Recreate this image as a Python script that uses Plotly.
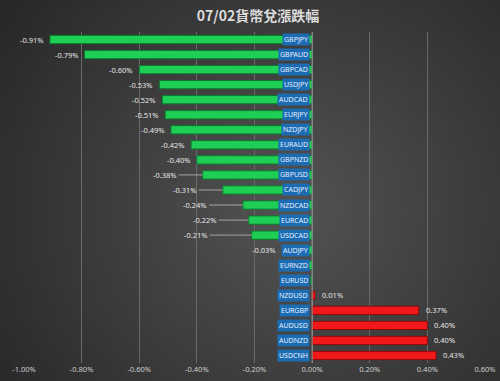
import base64, struct, zlib
import plotly.graph_objects as go

title = "07/02貨幣兌漲跌幅"
pairs = ["GBPJPY", "GBPAUD", "GBPCAD", "USDJPY", "AUDCAD", "EURJPY", "NZDJPY",
         "EURAUD", "GBPNZD", "GBPUSD", "CADJPY", "NZDCAD", "EURCAD", "USDCAD",
         "AUDJPY", "EURNZD", "EURUSD", "NZDUSD", "EURGBP", "AUDUSD", "AUDNZD", "USDCNH"]
changes = [-0.91, -0.79, -0.60, -0.53, -0.52, -0.51, -0.49,
           -0.42, -0.40, -0.38, -0.31, -0.24, -0.22, -0.21,
           -0.03, -0.015, -0.005, 0.01, 0.37, 0.40, 0.40, 0.43]
show_label = [True] * 15 + [False, False] + [True] * 5
# labels pushed left with leader lines (pixel offsets)
leader_offset = {"GBPUSD": -24, "CADJPY": -24, "NZDCAD": -34, "EURCAD": -30, "USDCAD": -42}
tick_vals = [-1.0, -0.8, -0.6, -0.4, -0.2, 0.0, 0.2, 0.4, 0.6]
tick_text = ["-1.00%", "-0.80%", "-0.60%", "-0.40%", "-0.20%", "0.00%", "0.20%", "0.40%", "0.60%"]

W, H = 500, 381
ML, MR, MT, MB = 24, 15, 32, 18
PW, PH = W - ML - MR, H - MT - MB


def make_bg_png(w=100, h=76):
    rows = b""
    for j in range(h):
        row = b"\x00"
        for i in range(w):
            dx = (i / (w - 1) - 0.58) / 0.75
            dy = (j / (h - 1) - 0.55) / 0.95
            d = min(1.0, (dx * dx + dy * dy) ** 0.5)
            v = int(84 - (84 - 38) * d)
            row += bytes([v, v, v])
        rows += row

    def chunk(t, data):
        c = struct.pack(">I", len(data)) + t + data
        return c + struct.pack(">I", zlib.crc32(t + data) & 0xffffffff)

    png = b"\x89PNG\r\n\x1a\n"
    png += chunk(b"IHDR", struct.pack(">IIBBBBB", w, h, 8, 2, 0, 0, 0))
    png += chunk(b"IDAT", zlib.compress(rows))
    png += chunk(b"IEND", b"")
    return "data:image/png;base64," + base64.b64encode(png).decode()


colors = ["#1fcf55" if v < 0 else "#f01818" for v in changes]
lines = ["#0b7a2e" if v < 0 else "#8e0a0a" for v in changes]

fig = go.Figure()
fig.add_trace(go.Bar(
    x=changes, y=pairs, orientation="h",
    marker=dict(color=colors, line=dict(color=lines, width=1)),
    width=0.55, hoverinfo="x+y",
))

lab_font = dict(family="Noto Sans", size=7.5, color="#e6e6e6")
ann = []
for p, v, s in zip(pairs, changes, show_label):
    # category label in blue box at left of zero axis
    ann.append(dict(x=0, y=p, xref="x", yref="y", text=p, showarrow=False,
                    xanchor="right", xshift=-2, bgcolor="#1b6cb3",
                    font=dict(family="Noto Sans", size=7, color="#e8f0ff"),
                    borderpad=1))
    if not s:
        continue
    txt = f"{v:.2f}%"
    if v < 0:
        if p in leader_offset:
            ann.append(dict(x=v, y=p, xref="x", yref="y", text=txt, showarrow=True,
                            arrowhead=0, arrowwidth=0.8, arrowcolor="#bbbbbb",
                            ax=leader_offset[p], ay=0, xanchor="right", font=lab_font))
        elif abs(v) < 0.05:
            # tiny bar: label sits just left of the pair box
            ann.append(dict(x=0, y=p, xref="x", yref="y", text=txt, showarrow=False,
                            xanchor="right", xshift=-34, font=lab_font))
        else:
            ann.append(dict(x=v, y=p, xref="x", yref="y", text=txt, showarrow=False,
                            xanchor="right", xshift=-4, font=lab_font))
    else:
        ann.append(dict(x=v, y=p, xref="x", yref="y", text=txt, showarrow=False,
                        xanchor="left", xshift=5, font=lab_font))

fig.update_layout(
    width=W, height=H,
    margin=dict(l=ML, r=MR, t=MT, b=MB, autoexpand=False),
    paper_bgcolor="#3a3a3a", plot_bgcolor="rgba(0,0,0,0)",
    title=dict(text=f"<b>{title}</b>", x=0.516, xanchor="center", y=0.958, yanchor="middle",
               font=dict(family="Noto Sans CJK TC", size=14, color="#dddddd")),
    showlegend=False,
    annotations=ann,
    images=[dict(source=make_bg_png(), xref="paper", yref="paper",
                 x=-ML / PW, y=1 + MT / PH, sizex=W / PW, sizey=H / PH,
                 xanchor="left", yanchor="top", sizing="stretch", layer="below")],
    xaxis=dict(range=[-1.0, 0.6], tickvals=tick_vals, ticktext=tick_text,
               showgrid=True, gridcolor="#6a6a6a", gridwidth=1, zeroline=False,
               showline=False, ticks="", fixedrange=True, automargin=False,
               tickfont=dict(family="Noto Sans", size=7.5, color="#cccccc")),
    yaxis=dict(autorange="reversed", showticklabels=False, showgrid=False,
               zeroline=False, showline=False, ticks="", automargin=False),
    shapes=[dict(type="line", xref="x", yref="paper", x0=0, x1=0, y0=0, y1=1,
                 line=dict(color="#9a9a9a", width=1), layer="above")],
)

fig.write_html("out.html", config={"displayModeBar": False},
               post_script="document.body.style.margin='0';document.body.style.background='#3a3a3a';")
